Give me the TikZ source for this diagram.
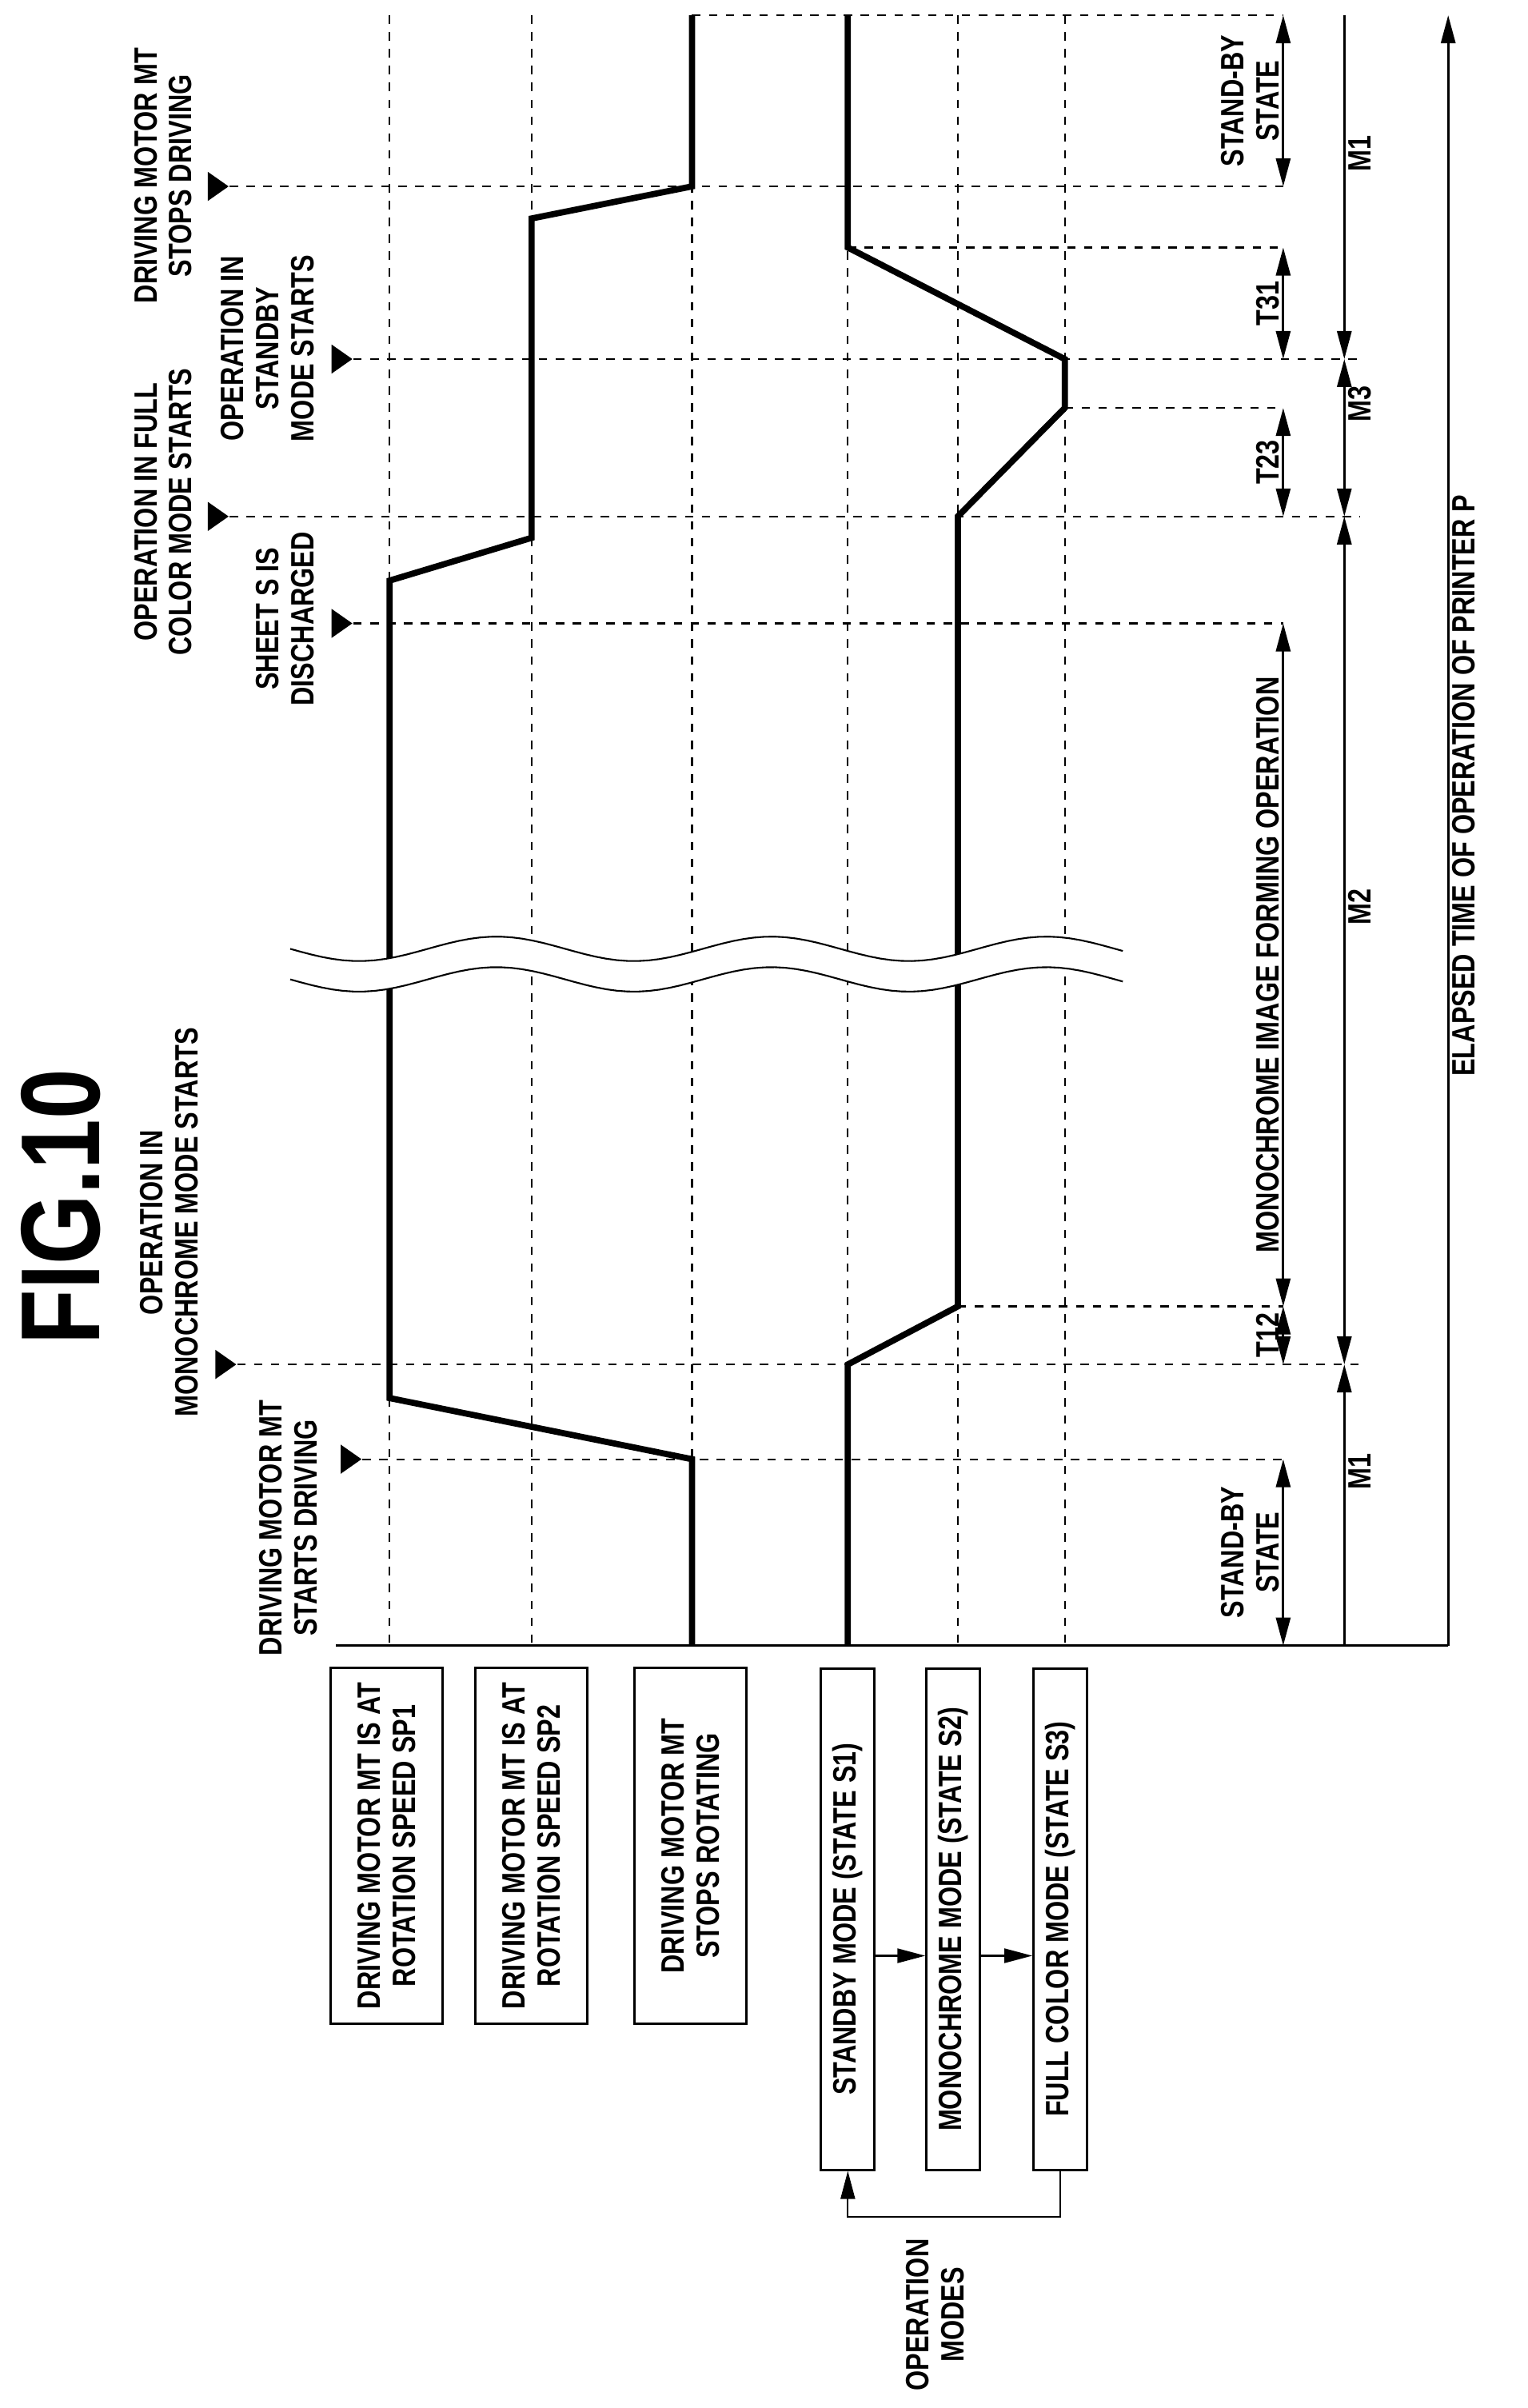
\documentclass[tikz,border=0pt]{standalone}
\usepackage{fontspec}
\setmainfont{Liberation Sans}[FakeStretch=0.8]
\usetikzlibrary{arrows.meta,shapes.geometric,calc}
\begin{document}
\begin{tikzpicture}[x=0.01911cm,y=-0.01911cm,
    font=\fontsize{11.5}{12.5}\selectfont\bfseries,
    tip/.style={-{Triangle[length=3.5mm,width=1.8mm]}},
    dimline/.style={{Triangle[length=3.5mm,width=1.8mm]}-{Triangle[length=3.5mm,width=1.8mm]}},
    grid/.style={dashed, semithick},
    trace/.style={line width=2.2pt},
    label/.style={rotate=90, align=center, inner sep=1pt},
    statebox/.style={draw, thick, rotate=90, align=center, minimum width=4.45cm, minimum height=1.4cm},
    modebox/.style={draw, thick, rotate=90, minimum width=6.27cm, minimum height=0.67cm},
    marker/.style={isosceles triangle, fill, inner sep=0pt, minimum height=2.6mm, minimum width=2.6mm, isosceles triangle apex angle=70}]
   \useasboundingbox (0,0) rectangle (1000,1576);

   % title
   \node[rotate=90, font=\fontsize{40}{42}\selectfont\bfseries] (fig) at (40,790) {FIG.10};

   % level lines
   \foreach \lx in {255,348,453,555,627,697}
      \draw[grid] (\lx,10) -- (\lx,1077);
   \draw[thick] (220,1077) -- (948,1077);

   % event markers and lines
   \node[marker] (e1) at (228,955) {};
   \node[marker] (e2) at (146,893) {};
   \node[marker] (e3) at (222,408) {};
   \node[marker] (e4) at (141,338) {};
   \node[marker] (e5) at (222,235) {};
   \node[marker] (e6) at (141,122) {};
   \coordinate (t12) at (627,855);
   \coordinate (t23) at (697,267);
   \coordinate (t31) at (555,162);
   \coordinate (top) at (453,10);
   \draw[grid] (e1) -- (840,955);
   \draw[grid] (e2) -- (890,893);
   \draw[grid] (e3) -- (840,408);
   \draw[grid] (e4) -- (890,338);
   \draw[grid] (e5) -- (890,235);
   \draw[grid] (e6) -- (840,122);
   \draw[grid] (t12) -- (840,855);
   \draw[grid] (t23) -- (840,267);
   \draw[grid] (t31) -- (840,162);
   \draw[grid] (top) -- (840,10);

   % event labels
   \node[label, anchor=south] (l1) at (210,1000) {DRIVING MOTOR MT\\STARTS DRIVING};
   \node[label, anchor=south] (l2) at (132,800) {OPERATION IN\\MONOCHROME MODE STARTS};
   \node[label, anchor=south] (l3) at (208,405) {SHEET S IS\\DISCHARGED};
   \node[label, anchor=south] (l4) at (128,335) {OPERATION IN FULL\\COLOR MODE STARTS};
   \node[label, anchor=south] (l5) at (208,228) {OPERATION IN\\STANDBY\\MODE STARTS};
   \node[label, anchor=south] (l6) at (128,115) {DRIVING MOTOR MT\\STOPS DRIVING};

   % traces
   \draw[trace] (453,1077) -- (453,955) -- (255,915) -- (255,380) -- (348,352)
      -- (348,143) -- (453,122) -- (453,10);
   \draw[trace] (555,1077) -- (555,893) -- (627,855) -- (627,338) -- (697,267)
      -- (697,235) -- (555,162) -- (555,10);

   % break
   \fill[white] plot[domain=190:735, samples=80] (\x,{621+8*sin((\x-190)*2)})
      -- plot[domain=735:190, samples=80] (\x,{641+8*sin((\x-190)*2)}) -- cycle;
   \draw[semithick] plot[domain=190:735, samples=80] (\x,{621+8*sin((\x-190)*2)});
   \draw[semithick] plot[domain=190:735, samples=80] (\x,{641+8*sin((\x-190)*2)});

   % periods
   \draw[thick, dimline] (840,1077) -- node[label, anchor=south, pos=0.5] (s1) {STAND-BY\\STATE} (840,955);
   \draw[thick, dimline] (840,893) -- node[label, anchor=south] (d12) {T12} (840,855);
   \draw[thick, dimline] (840,855) -- node[label, anchor=south] (mono) {MONOCHROME IMAGE FORMING OPERATION} (840,408);
   \draw[thick, dimline] (840,338) -- node[label, anchor=south] (d23) {T23} (840,267);
   \draw[thick, dimline] (840,235) -- node[label, anchor=south] (d31) {T31} (840,162);
   \draw[thick, dimline] (840,122) -- node[label, anchor=south] (s2) {STAND-BY\\STATE} (840,10);

   \draw[thick, tip] (880,1077) -- node[label, anchor=north, xshift=12pt] (m1a) {M1} (880,893);
   \draw[thick, dimline] (880,893) -- node[label, anchor=north, xshift=12pt] (m2) {M2} (880,338);
   \draw[thick, dimline] (880,338) -- node[label, anchor=north, xshift=12pt] (m3) {M3} (880,235);
   \draw[thick, tip] (880,10) -- node[label, anchor=north, xshift=12pt] (m1b) {M1} (880,235);

   \draw[thick, tip] (948,1077) -- node[label, anchor=north, pos=0.5, xshift=16pt] (axis) {ELAPSED TIME OF OPERATION OF PRINTER P} (948,10);

   % state boxes
   \node[statebox] (sp1) at (253,1208) {DRIVING MOTOR MT IS AT\\ROTATION SPEED SP1};
   \node[statebox] (sp2) at (348,1208) {DRIVING MOTOR MT IS AT\\ROTATION SPEED SP2};
   \node[statebox] (stop) at (452,1208) {DRIVING MOTOR MT\\STOPS ROTATING};

   % mode boxes
   \node[modebox] (S1) at (555,1256) {STANDBY MODE (STATE S1)};
   \node[modebox] (S2) at (624,1256) {MONOCHROME MODE (STATE S2)};
   \node[modebox] (S3) at (694,1256) {FULL COLOR MODE (STATE S3)};
   \draw[semithick, tip] ($(S1.south)+(0,24)$) -- ($(S2.north)+(0,24)$);
   \draw[semithick, tip] ($(S2.south)+(0,24)$) -- ($(S3.north)+(0,24)$);
   \draw[semithick, tip] (S3.west) -- ++(0,30) -| (S1.west);
   \node[label] (modes) at (612,1515) {OPERATION\\MODES};
\end{tikzpicture}
\end{document}
